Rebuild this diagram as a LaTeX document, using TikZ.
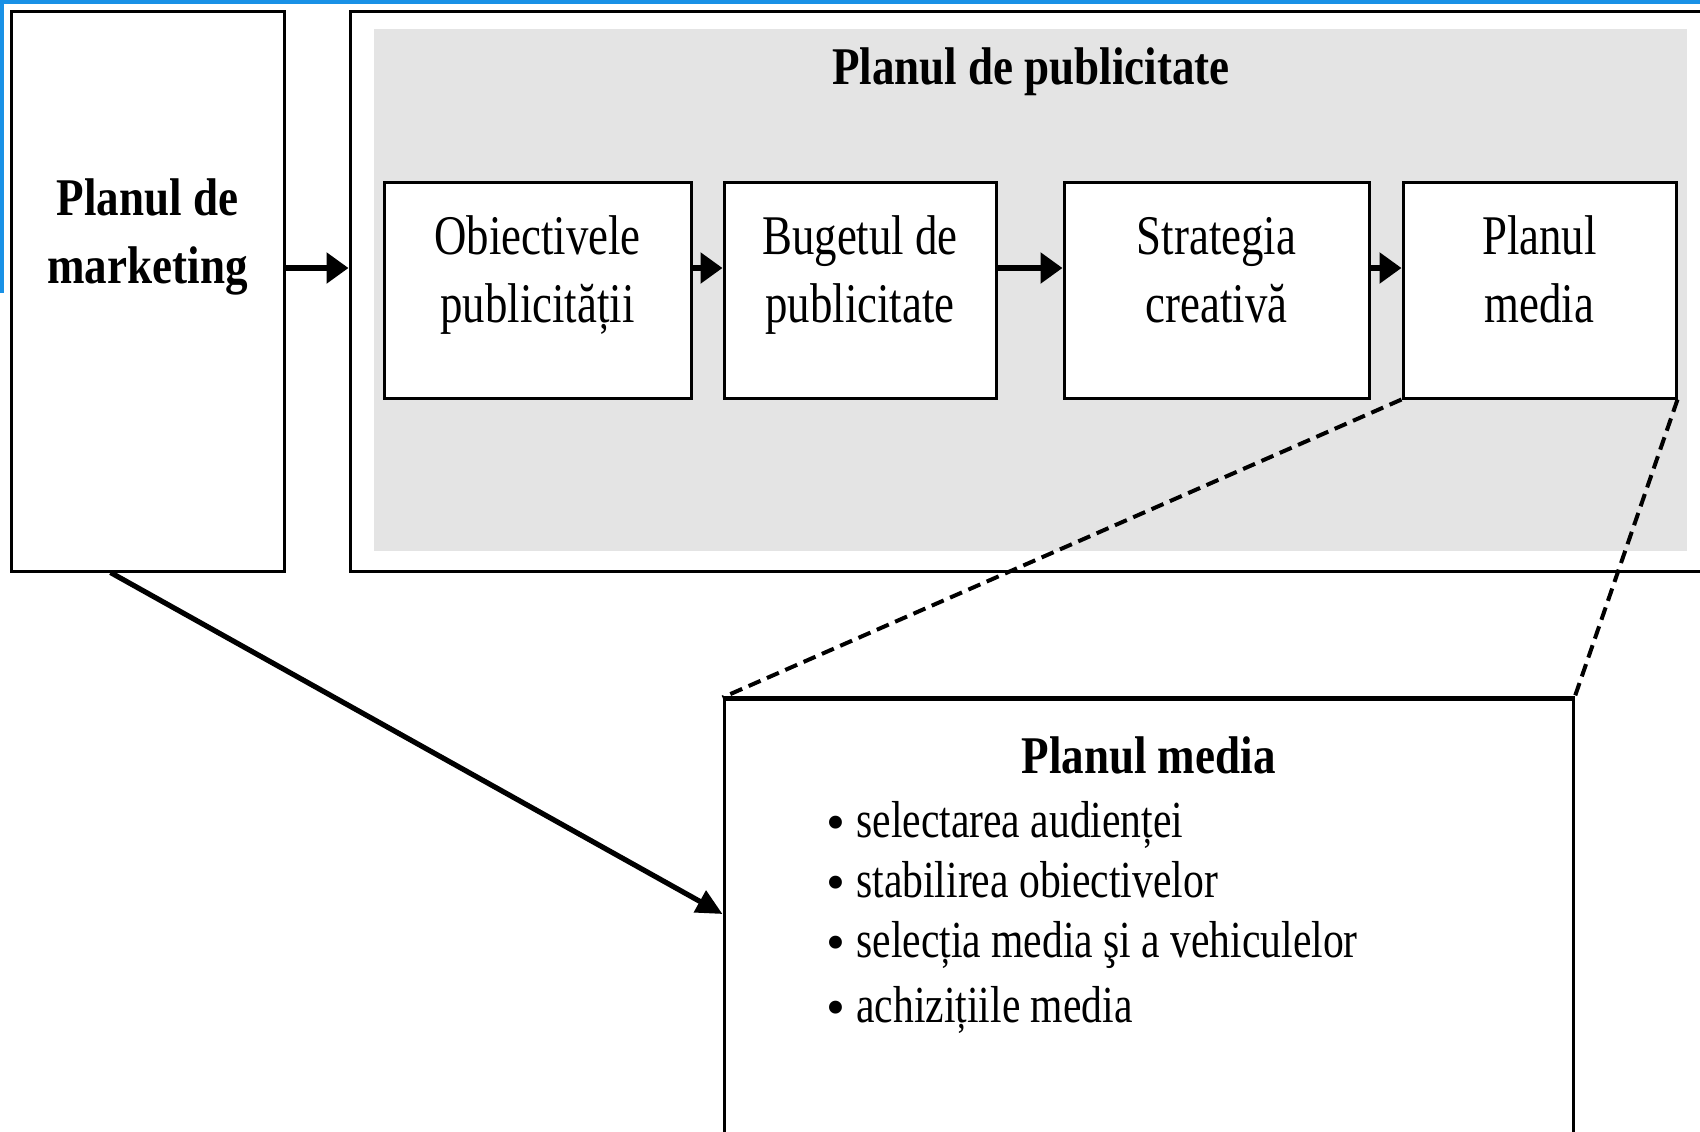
\documentclass[tikz,border=0pt]{standalone}
\usepackage{fontspec}
\setmainfont{Liberation Serif}[FakeStretch=0.8]
\newfontfamily\boldcond{Liberation Serif}[FakeStretch=0.85]
\newfontfamily\plainserif{Liberation Serif}
\usetikzlibrary{arrows.meta,fit}
\definecolor{frameblue}{RGB}{25,145,230}
\definecolor{panelgray}{RGB}{228,228,228}
\newcommand{\bulletmark}{\makebox[16pt][l]{\hspace{1pt}\raisebox{-1.5pt}{\plainserif\fontsize{27}{27}\selectfont\textbullet}}}
\begin{document}
\begin{tikzpicture}[x=0.5pt,y=-0.5pt,
  box/.style={draw, line width=1.5pt, inner sep=0pt, fill=white},
  flowarr/.style={line width=3pt, -{Triangle[length=11pt,width=15pt]}},
  diagarr/.style={line width=2.6pt, -{Triangle[length=13pt,width=12pt]}},
  zoomline/.style={line width=2pt, dash pattern=on 6.5pt off 3.5pt},
  boxtxt/.style={align=center, inner sep=0pt, font=\fontsize{28}{34}\selectfont},
  boldtxt/.style={align=center, inner sep=0pt, font=\boldcond\bfseries\fontsize{26.5}{34}\selectfont},
  itemtxt/.style={anchor=base west, inner sep=0pt, font=\fontsize{26}{31}\selectfont}]
\useasboundingbox (0,0) rectangle (1700,1131);
\clip (0,0) rectangle (1700,1131);
\fill[white] (0,0) rectangle (1700,1131);
% outer frame and grey panel
\node[box, fit={(350,11) (1730,571)}] (pub) {};
\fill[panelgray] (374,29) rectangle (1687,551);
% marketing plan
\node[box, fit={(11,11) (284,571)}] (mk) {};
\node[boldtxt] (mktxt) at (147.5,236) {\strut Planul de\\\strut marketing};
\node[boldtxt, anchor=base] (pubtitle) at (1031,84) {Planul de publicitate};
% four steps
\node[box, fit={(384,182) (691,398)}] (ob) {};
\node[box, fit={(724,182) (996,398)}] (bu) {};
\node[box, fit={(1064,182) (1369,398)}] (st) {};
\node[box, fit={(1403,182) (1676,398)}] (pm) {};
\node[boxtxt] (obtxt) at (537.5,275) {\strut Obiectivele\\\strut publicității};
\node[boxtxt] (butxt) at (860,275) {\strut Bugetul de\\\strut publicitate};
\node[boxtxt] (sttxt) at (1216.5,275) {\strut Strategia\\\strut creativă};
\node[boxtxt] (pmtxt) at (1539.5,275) {\strut Planul\\\strut media};
\coordinate (ay) at (0,268);
\draw[flowarr] (mk.east |- ay) -- (pub.west |- ay);
\draw[flowarr] (ob.east |- ay) -- (bu.west |- ay);
\draw[flowarr] (bu.east |- ay) -- (st.west |- ay);
\draw[flowarr] (st.east |- ay) -- (pm.west |- ay);
% media plan detail
\node[box, fit={(724,699) (1573,1160)}] (mb) {};
\draw[line width=2pt] (mb.north west) -- (mb.north east);
\draw[zoomline] (pm.south west) -- (mb.north west);
\draw[zoomline] (pm.south east) -- (mb.north east);
\coordinate (dy) at (0,914);
\draw[diagarr] ([xshift=50.5pt]mk.south west) -- (mb.west |- dy);
\node[boldtxt, anchor=base] (mbtitle) at (1148.5,773) {Planul media};
\node[itemtxt] (i1) at (824,837) {\bulletmark selectarea audienței};
\node[itemtxt] (i2) at (824,897) {\bulletmark stabilirea obiectivelor};
\node[itemtxt] (i3) at (824,957) {\bulletmark selecția media şi a vehiculelor};
\node[itemtxt] (i4) at (824,1022) {\bulletmark achizițiile media};
% blue window edge
\fill[frameblue] (0,0) rectangle (1700,4);
\fill[frameblue] (0,0) rectangle (4,293);
\end{tikzpicture}
\end{document}
